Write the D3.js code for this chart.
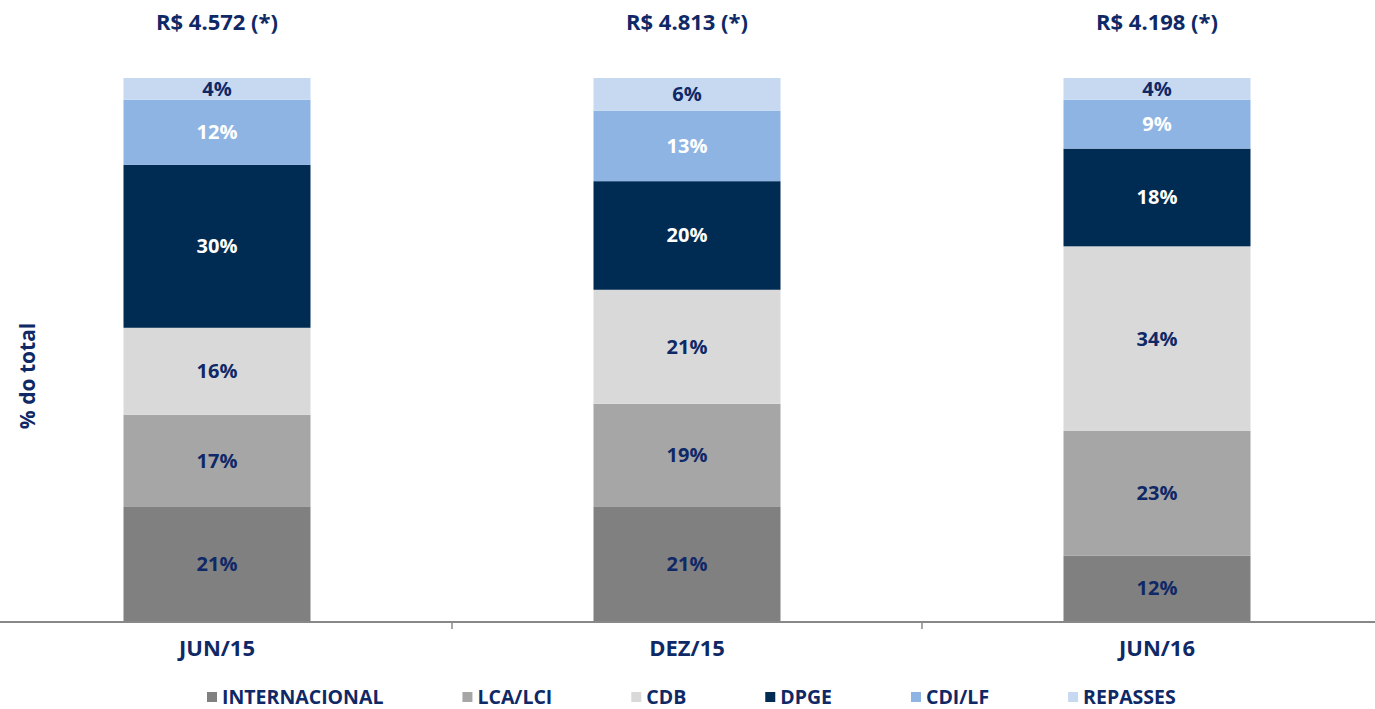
<!DOCTYPE html>
<html>
<head>
<meta charset="utf-8">
<script src="https://cdn.jsdelivr.net/npm/d3@7"></script>
<style>
  body { margin: 0; background: #fff; }
  svg text { font-family: "Open Sans", "Noto Sans", sans-serif; font-weight: 700; }
</style>
</head>
<body>
<svg id="chart" width="1375" height="709"></svg>
<script>
// chart data
var periods = ["JUN/15", "DEZ/15", "JUN/16"];
var totals = ["R$ 4.572 (*)", "R$ 4.813 (*)", "R$ 4.198 (*)"];
var series = ["INTERNACIONAL", "LCA/LCI", "CDB", "DPGE", "CDI/LF", "REPASSES"];
var internacional = [21, 21, 12];
var lcaLci = [17, 19, 23];
var cdb = [16, 21, 34];
var dpge = [30, 20, 18];
var cdiLf = [12, 13, 9];
var repasses = [4, 6, 4];

var colors = ["#808080", "#a6a6a6", "#d9d9d9", "#002b52", "#8eb4e3", "#c6d9f1"];
var labelColors = ["#0f2866", "#0f2866", "#0f2866", "#ffffff", "#ffffff", "#0f2866"];
var navy = "#0f2866";

var svg = d3.select("#chart");

// build rows for the stack
var allSeries = [internacional, lcaLci, cdb, dpge, cdiLf, repasses];
var rows = periods.map(function (p, i) {
  var row = { period: p };
  series.forEach(function (s, j) { row[s] = allSeries[j][i]; });
  return row;
});
var stacked = d3.stack().keys(series)(rows);

var baseY = 621;
var xScale = d3.scaleBand().domain(periods).range([-18, 1392]);
var yScale = d3.scaleLinear().domain([0, 100]).range([baseY, 78]);
var barWidth = 187;

// bars
var layers = svg.append("g").selectAll("g")
  .data(stacked)
  .enter().append("g")
  .attr("fill", function (d, i) { return colors[i]; });

layers.selectAll("rect")
  .data(function (d) { return d; })
  .enter().append("rect")
  .attr("x", function (d) { return xScale(d.data.period) + xScale.bandwidth() / 2 - barWidth / 2; })
  .attr("y", function (d) { return yScale(d[1]); })
  .attr("width", barWidth)
  .attr("height", function (d) { return yScale(d[0]) - yScale(d[1]); });

// segment labels
stacked.forEach(function (layer, li) {
  svg.append("g").selectAll("text")
    .data(layer)
    .enter().append("text")
    .attr("x", function (d) { return xScale(d.data.period) + xScale.bandwidth() / 2; })
    .attr("y", function (d) { return (yScale(d[0]) + yScale(d[1])) / 2; })
    .attr("dy", "0.35em")
    .attr("text-anchor", "middle")
    .attr("font-size", 20)
    .attr("fill", labelColors[li])
    .text(function (d) { return (d[1] - d[0]) + "%"; });
});

// totals on top
svg.append("g").selectAll("text")
  .data(periods)
  .enter().append("text")
  .attr("x", function (d) { return xScale(d) + xScale.bandwidth() / 2; })
  .attr("y", 22)
  .attr("dy", "0.35em")
  .attr("text-anchor", "middle")
  .attr("font-size", 22)
  .attr("fill", navy)
  .text(function (d, i) { return totals[i]; });

// x axis: baseline + ticks between categories
svg.append("line")
  .attr("x1", 0).attr("x2", 1375)
  .attr("y1", baseY + 1).attr("y2", baseY + 1)
  .attr("stroke", "#888").attr("stroke-width", 2);

svg.append("g").selectAll("line")
  .data(periods.slice(1))
  .enter().append("line")
  .attr("x1", function (d) { return xScale(d); })
  .attr("x2", function (d) { return xScale(d); })
  .attr("y1", baseY + 1).attr("y2", baseY + 8)
  .attr("stroke", "#888").attr("stroke-width", 1.5);

svg.append("g").selectAll("text")
  .data(periods)
  .enter().append("text")
  .attr("x", function (d) { return xScale(d) + xScale.bandwidth() / 2; })
  .attr("y", 648)
  .attr("dy", "0.35em")
  .attr("text-anchor", "middle")
  .attr("font-size", 22)
  .attr("fill", navy)
  .text(function (d) { return d; });

// y axis title
svg.append("text")
  .attr("transform", "translate(28,376) rotate(-90)")
  .attr("dy", "0.35em")
  .attr("text-anchor", "middle")
  .attr("font-size", 21)
  .attr("fill", navy)
  .text("% do total");

// legend
var legend = svg.append("g").attr("transform", "translate(207,697)");
var lx = 0;
series.forEach(function (s, i) {
  var item = legend.append("g").attr("transform", "translate(" + lx + ",0)");
  item.append("rect")
    .attr("x", 0).attr("y", -5)
    .attr("width", 10).attr("height", 10)
    .attr("fill", colors[i]);
  var t = item.append("text")
    .attr("x", 15)
    .attr("dy", "0.35em")
    .attr("font-size", 19.5)
    .attr("fill", navy)
    .text(s);
  lx += 15 + t.node().getComputedTextLength() + 79;
});
</script>
</body>
</html>
